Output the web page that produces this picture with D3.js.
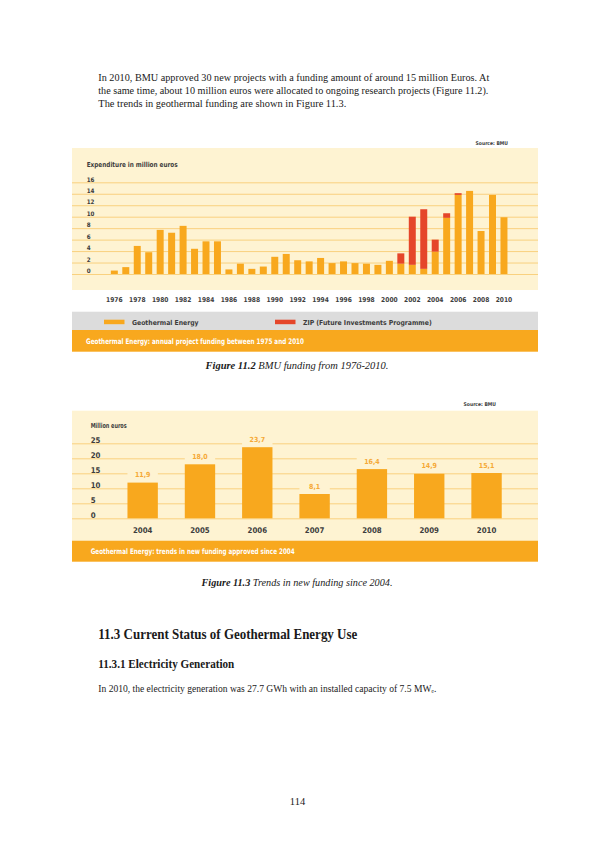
<!DOCTYPE html>
<html>
<head>
<meta charset="utf-8">
<script src="https://cdn.jsdelivr.net/npm/d3@7"></script>
<style>
    body { margin: 0; background: #fff; }
    svg { display: block; }
    .serif { font-family: "Liberation Serif", "DejaVu Serif", serif; fill: #1a1a1a; }
    .cond { font-family: "Liberation Sans Narrow", "DejaVu Sans Condensed", sans-serif; font-weight: bold; }
</style>
</head>
<body>
<svg id="page" width="595" height="842"></svg>
<script>
// Figure 11.2 - BMU funding per year (million euros)
const years = [1976, 1977, 1978, 1979, 1980, 1981, 1982, 1983, 1984, 1985,
    1986, 1987, 1988, 1989, 1990, 1991, 1992, 1993, 1994, 1995,
    1996, 1997, 1998, 1999, 2000, 2001, 2002, 2003, 2004, 2005,
    2006, 2007, 2008, 2009, 2010];
const geothermal = [0.6, 1.2, 4.9, 3.8, 7.7, 7.2, 8.4, 4.4, 5.7, 5.7,
    0.8, 1.8, 0.9, 1.3, 3.0, 3.5, 2.4, 2.2, 2.8, 1.9,
    2.2, 1.9, 1.8, 1.6, 2.3, 1.8, 1.6, 0.9, 3.9, 9.8,
    13.8, 14.5, 7.5, 13.8, 9.9];
const zip = [0, 0, 0, 0, 0, 0, 0, 0, 0, 0,
    0, 0, 0, 0, 0, 0, 0, 0, 0, 0,
    0, 0, 0, 0, 0, 1.8, 8.4, 10.4, 2.1, 0.8,
    0.3, 0, 0, 0, 0];
const ticks1 = [0, 2, 4, 6, 8, 10, 12, 14, 16];

// Figure 11.3 - new funding approved (million euros)
const fundYears = ["2004", "2005", "2006", "2007", "2008", "2009", "2010"];
const fundValues = [11.9, 18.0, 23.7, 8.1, 16.4, 14.9, 15.1];
const ticks2 = [0, 5, 10, 15, 20, 25];

const paragraph = [
    "In 2010, BMU approved 30 new projects with a funding amount of around 15 million Euros. At",
    "the same time, about 10 million euros were allocated to ongoing research projects (Figure 11.2).",
    "The trends in geothermal funding are shown in Figure 11.3."
];

const CREAM = "#fef3d2";
const GRID = "#f8c86a";
const ORANGE = "#f8a81e";
const RED = "#e5462a";
const GREY = "#dcdcdc";
const INK = "#3d3d3d";

const svg = d3.select("#page");

// ---- page text ----
const paraWidths = [391, 390, 248];
svg.selectAll(".para")
    .data(paragraph)
    .join("text")
    .attr("class", "serif para")
    .attr("x", 98.3)
    .attr("y", (d, i) => 80.5 + i * 13.3)
    .attr("font-size", 10.5)
    .attr("textLength", (d, i) => paraWidths[i])
    .attr("lengthAdjust", "spacingAndGlyphs")
    .text(d => d);

function caption(y, fig, rest, width) {
    const t = svg.append("text")
        .attr("class", "serif")
        .attr("x", 297).attr("y", y)
        .attr("text-anchor", "middle")
        .attr("font-size", 10)
        .attr("textLength", width)
        .attr("lengthAdjust", "spacingAndGlyphs");
    t.append("tspan").attr("font-weight", "bold").attr("font-style", "italic").text(fig);
    t.append("tspan").attr("font-style", "italic").text("  " + rest);
}

// ---- Figure 11.2 ----
const g1 = svg.append("g");
const x1 = d3.scaleBand()
    .domain(years)
    .range([108.6, 509.7])
    .paddingInner(0.39)
    .paddingOuter(0.195);
const y1 = d3.scaleLinear().domain([0, 16]).range([274, 182.3]);

g1.append("text")
    .attr("class", "cond")
    .attr("x", 508).attr("y", 145)
    .attr("text-anchor", "end")
    .attr("font-size", 5)
    .attr("font-weight", "normal")
    .attr("fill", INK)
    .text("Source: BMU");

g1.append("rect")
    .attr("x", 72).attr("y", 148)
    .attr("width", 466).attr("height", 142)
    .attr("fill", CREAM);

g1.append("text")
    .attr("class", "cond")
    .attr("x", 86.7).attr("y", 166.5)
    .attr("font-size", 7)
    .attr("fill", INK)
    .attr("textLength", 91)
    .attr("lengthAdjust", "spacingAndGlyphs")
    .text("Expenditure in million euros");

const yAxis1 = g1.append("g")
    .attr("transform", "translate(72,0)")
    .call(d3.axisRight(y1).tickValues(ticks1).tickSize(466).tickFormat(d3.format("d")));
yAxis1.select(".domain").remove();
yAxis1.selectAll(".tick line").attr("stroke", GRID).attr("stroke-width", 0.8);
yAxis1.selectAll(".tick text")
    .attr("class", "cond")
    .attr("x", 14.7).attr("dy", -1.3)
    .attr("font-size", 6.2)
    .attr("fill", INK)
    .attr("text-anchor", "start")
    .attr("dominant-baseline", "auto");

const stackData = years.map((yr, i) => ({ year: yr, geo: geothermal[i], zip: zip[i] }));
const series = d3.stack().keys(["geo", "zip"])(stackData);

g1.selectAll(".series")
    .data(series)
    .join("g")
    .attr("fill", d => d.key === "geo" ? ORANGE : RED)
    .selectAll("rect")
    .data(d => d.filter(p => p[1] > p[0]))
    .join("rect")
    .attr("x", d => x1(d.data.year))
    .attr("y", d => y1(d[1]))
    .attr("width", x1.bandwidth())
    .attr("height", d => y1(d[0]) - y1(d[1]));

const xAxis1 = g1.append("g")
    .attr("transform", "translate(0,294)")
    .call(d3.axisBottom(x1).tickValues(years.filter(d => d % 2 === 0)).tickSize(0));
xAxis1.select(".domain").remove();
xAxis1.selectAll(".tick text")
    .attr("class", "cond")
    .attr("font-size", 6.6)
    .attr("fill", INK);

// legend band
g1.append("rect")
    .attr("x", 72).attr("y", 311.7)
    .attr("width", 466).attr("height", 18.3)
    .attr("fill", GREY);
const legend = [
    { label: "Geothermal Energy", color: ORANGE, x: 104 },
    { label: "ZIP (Future Investments Programme)", color: RED, x: 275 }
];
const lg = g1.selectAll(".legend")
    .data(legend)
    .join("g")
    .attr("transform", d => `translate(${d.x},319.7)`);
lg.append("rect").attr("width", 20.5).attr("height", 4.5).attr("fill", d => d.color);
lg.append("text")
    .attr("class", "cond")
    .attr("x", 28).attr("y", 5)
    .attr("font-size", 6.8)
    .attr("fill", INK)
    .text(d => d.label);

g1.append("rect")
    .attr("x", 72).attr("y", 330)
    .attr("width", 466).attr("height", 21.7)
    .attr("fill", ORANGE);
g1.append("text")
    .attr("class", "cond")
    .attr("x", 86).attr("y", 343.5)
    .attr("font-size", 7.6)
    .attr("fill", "#fff")
    .attr("textLength", 218)
    .attr("lengthAdjust", "spacingAndGlyphs")
    .text("Geothermal Energy: annual project funding between 1975 and 2010");

caption(368.5, "Figure 11.2", "BMU funding from 1976-2010.", 183);

// ---- Figure 11.3 ----
const g2 = svg.append("g");
const x2 = d3.scaleBand()
    .domain(fundYears)
    .range([114, 515.2])
    .paddingInner(0.47)
    .paddingOuter(0.235);
const y2 = d3.scaleLinear().domain([0, 25]).range([518.3, 443.3]);

g2.append("text")
    .attr("class", "cond")
    .attr("x", 496).attr("y", 406)
    .attr("text-anchor", "end")
    .attr("font-size", 5)
    .attr("font-weight", "normal")
    .attr("fill", INK)
    .text("Source: BMU");

g2.append("rect")
    .attr("x", 72).attr("y", 410.7)
    .attr("width", 466).attr("height", 130)
    .attr("fill", CREAM);

g2.append("text")
    .attr("class", "cond")
    .attr("x", 90.7).attr("y", 427.5)
    .attr("font-size", 7)
    .attr("fill", INK)
    .attr("textLength", 36)
    .attr("lengthAdjust", "spacingAndGlyphs")
    .text("Million euros");

const yAxis2 = g2.append("g")
    .attr("transform", "translate(72,0)")
    .call(d3.axisRight(y2).tickValues(ticks2).tickSize(466).tickFormat(d3.format("d")));
yAxis2.select(".domain").remove();
yAxis2.selectAll(".tick line").attr("stroke", GRID).attr("stroke-width", 0.8);
yAxis2.selectAll(".tick text")
    .attr("class", "cond")
    .attr("x", 18.7).attr("dy", -1.2)
    .attr("font-size", 7.8)
    .attr("fill", INK)
    .attr("text-anchor", "start")
    .attr("dominant-baseline", "auto");

const fund = fundYears.map((yr, i) => ({ year: yr, value: fundValues[i] }));
const comma = v => d3.format(".1f")(v).replace(".", ",");

// cream patches so gridlines break behind the value labels
g2.selectAll(".patch")
    .data(fund)
    .join("rect")
    .attr("x", d => x2(d.year))
    .attr("y", d => y2(d.value) - 12)
    .attr("width", x2.bandwidth())
    .attr("height", 12)
    .attr("fill", CREAM);

g2.selectAll(".bar")
    .data(fund)
    .join("rect")
    .attr("x", d => x2(d.year))
    .attr("y", d => y2(d.value))
    .attr("width", x2.bandwidth())
    .attr("height", d => y2(0) - y2(d.value))
    .attr("fill", ORANGE);

g2.selectAll(".val")
    .data(fund)
    .join("text")
    .attr("class", "cond")
    .attr("x", d => x2(d.year) + x2.bandwidth() / 2)
    .attr("y", d => y2(d.value) - 5.5)
    .attr("text-anchor", "middle")
    .attr("font-size", 7)
    .attr("font-weight", "normal")
    .attr("fill", "#f5a936")
    .text(d => comma(d.value));

const xAxis2 = g2.append("g")
    .attr("transform", "translate(0,524)")
    .call(d3.axisBottom(x2).tickSize(0));
xAxis2.select(".domain").remove();
xAxis2.selectAll(".tick text")
    .attr("class", "cond")
    .attr("font-size", 7.8)
    .attr("fill", INK);

g2.append("rect")
    .attr("x", 72).attr("y", 540.7)
    .attr("width", 466).attr("height", 21)
    .attr("fill", ORANGE);
g2.append("text")
    .attr("class", "cond")
    .attr("x", 90.7).attr("y", 553.8)
    .attr("font-size", 7.6)
    .attr("fill", "#fff")
    .attr("textLength", 204)
    .attr("lengthAdjust", "spacingAndGlyphs")
    .text("Geothermal Energy: trends in new funding approved since 2004");

caption(585.5, "Figure 11.3", "Trends in new funding since 2004.", 191);

// ---- section text ----
svg.append("text")
    .attr("class", "serif")
    .attr("x", 98.3).attr("y", 639)
    .attr("font-size", 15)
    .attr("font-weight", "bold")
    .attr("textLength", 259)
    .attr("lengthAdjust", "spacingAndGlyphs")
    .text("11.3  Current Status of Geothermal Energy Use");

svg.append("text")
    .attr("class", "serif")
    .attr("x", 98.3).attr("y", 667.5)
    .attr("font-size", 12)
    .attr("font-weight", "bold")
    .attr("textLength", 136)
    .attr("lengthAdjust", "spacingAndGlyphs")
    .text("11.3.1  Electricity Generation");

svg.append("text")
    .attr("class", "serif")
    .attr("x", 98.3).attr("y", 691.5)
    .attr("font-size", 10.5)
    .attr("textLength", 338)
    .attr("lengthAdjust", "spacingAndGlyphs")
    .text("In 2010, the electricity generation was 27.7 GWh with an installed capacity of 7.5 MW\u2091.");

svg.append("text")
    .attr("class", "serif")
    .attr("x", 297.5).attr("y", 805)
    .attr("text-anchor", "middle")
    .attr("font-size", 10.5)
    .text("114");
</script>
</body>
</html>
